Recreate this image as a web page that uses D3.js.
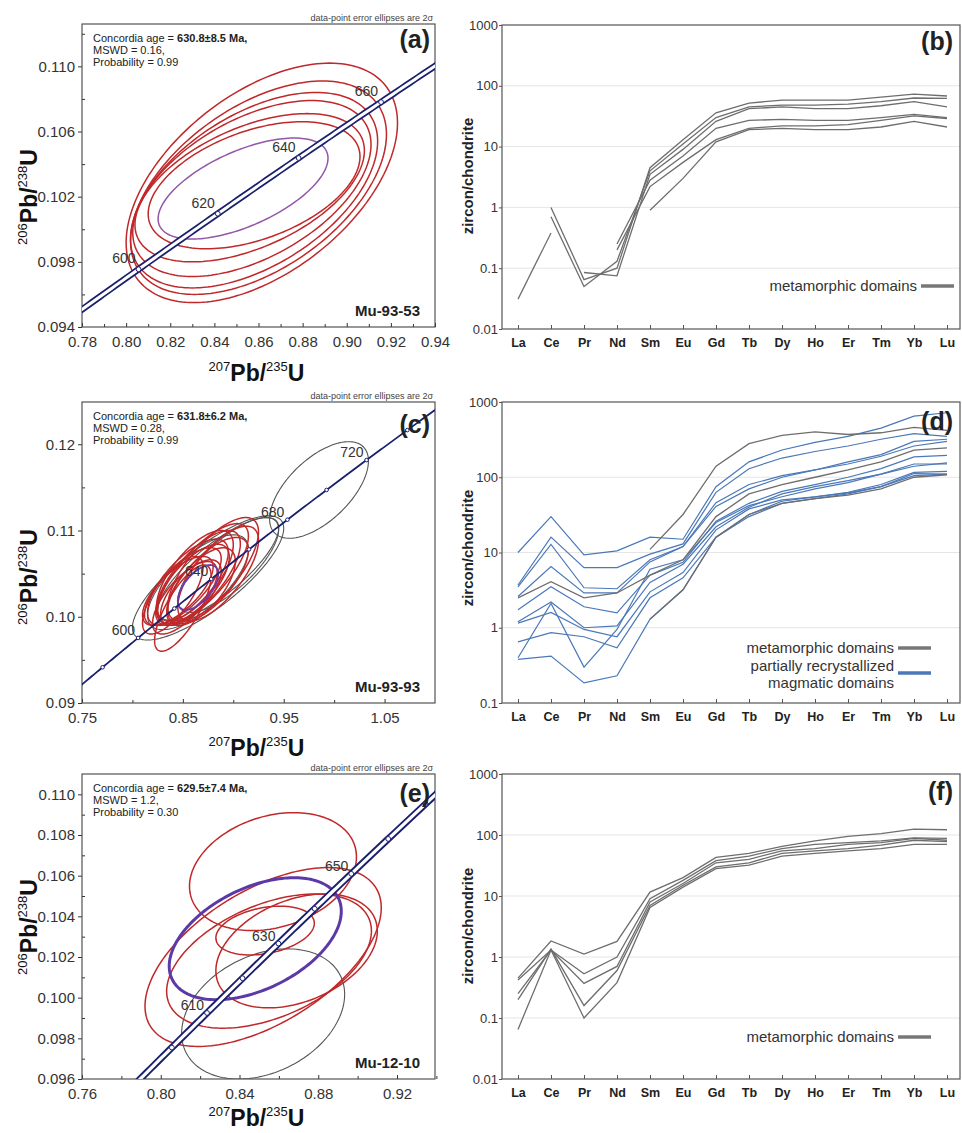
<!DOCTYPE html>
<html><head><meta charset="utf-8">
<script src="https://cdn.jsdelivr.net/npm/d3@7"></script>
<style>
body{margin:0;background:#fff}
svg{display:block}
text{font-family:"Liberation Sans",Arial,Helvetica,sans-serif;fill:#222}
</style>
</head><body>
<svg id="c" width="962" height="1133"></svg>
<script>
// ---------------- DATA ----------------
const REE = ["La","Ce","Pr","Nd","Sm","Eu","Gd","Tb","Dy","Ho","Er","Tm","Yb","Lu"];
const reeTicks = [0.01,0.1,1,10,100,1000];

// error ellipses: [cx (207/235), cy (206/238), half-width x, half-height y, rho]
const aRed = [
  [0.8615,0.10285,0.0615,0.00735,0.50],
  [0.8600,0.10255,0.0580,0.00655,0.50],
  [0.8580,0.10240,0.0560,0.00600,0.50],
  [0.8570,0.10250,0.0540,0.00540,0.50],
  [0.8560,0.10255,0.0520,0.00455,0.50],
  [0.8580,0.10270,0.0480,0.00390,0.45]
];
const aMean = [0.853,0.1025,0.0385,0.0031,0.6];
const aAges = [580,600,620,640,660,680];
const aAgeLabels = [600,620,640,660];
const aXTicks = [0.78,0.80,0.82,0.84,0.86,0.88,0.90,0.92,0.94];
const aXMinor = [0.79,0.81,0.83,0.85,0.87,0.89,0.91,0.93];
const aYTicks = [0.094,0.098,0.102,0.106,0.110];
const aYMinor = [0.096,0.100,0.104,0.108,0.112];

const cRed = [
  [0.845,0.1030,0.035,0.0040,0.70],
  [0.850,0.1035,0.038,0.0045,0.72],
  [0.855,0.1040,0.040,0.0050,0.70],
  [0.860,0.1038,0.036,0.0046,0.68],
  [0.865,0.1045,0.042,0.0055,0.72],
  [0.870,0.1050,0.045,0.0058,0.75],
  [0.858,0.1028,0.030,0.0038,0.65],
  [0.875,0.1042,0.040,0.0050,0.70],
  [0.880,0.1055,0.045,0.0060,0.72],
  [0.852,0.1022,0.032,0.0042,0.70],
  [0.868,0.1035,0.034,0.0045,0.65],
  [0.885,0.1050,0.040,0.0055,0.70],
  [0.840,0.1025,0.030,0.0045,0.72],
  [0.862,0.1048,0.038,0.0052,0.68],
  [0.850,0.1010,0.028,0.0050,0.75]
];
const cGrey = [
  [0.875,0.1045,0.075,0.0072,0.80],
  [0.885,0.1055,0.060,0.0060,0.80],
  [0.865,0.1040,0.050,0.0055,0.70],
  [0.895,0.1060,0.050,0.0055,0.75],
  [0.985,0.1147,0.049,0.0056,0.60]
];
const cMean = [0.865,0.1034,0.020,0.0026,0.6];
const cAges = [560,580,600,620,640,660,680,700,720,740,760];
const cAgeLabels = [600,640,680,720];
const cXTicks = [0.75,0.85,0.95,1.05];
const cXMinor = [0.80,0.90,1.00];
const cYTicks = [0.09,0.10,0.11,0.12];
const cYMinor = [0.095,0.105,0.115];

const eRed = [
  [0.857,0.1062,0.0424,0.0029,0.25],
  [0.852,0.1020,0.0600,0.0044,0.55],
  [0.855,0.1018,0.0520,0.0033,0.45],
  [0.853,0.1033,0.0250,0.0012,0.30],
  [0.869,0.1023,0.0410,0.0028,0.35]
];
const eGrey = [[0.852,0.0992,0.0414,0.0032,0.30]];
const eMean = [0.848,0.1029,0.0437,0.0030,0.45];
const eAges = [580,590,600,610,620,630,640,650,660,670,680,690];
const eAgeLabels = [610,630,650];
const eXTicks = [0.76,0.80,0.84,0.88,0.92];
const eXMinor = [0.78,0.82,0.86,0.90,0.94];
const eYTicks = [0.096,0.098,0.100,0.102,0.104,0.106,0.108,0.110];
const eYMinor = [0.097,0.099,0.101,0.103,0.105,0.107,0.109];

// REE patterns (chondrite normalised), La..Lu, null = not measured
const bMeta = [
  [null,1.0,0.065,0.10,4.5,13,36,52,58,58,58,65,73,68],
  [null,0.7,0.05,0.13,4.0,11,30,45,48,48,50,55,63,62],
  [null,null,0.085,0.075,3.5,9,26,42,45,42,42,47,55,45],
  [null,null,null,0.25,2.8,7,20,27,28,27,27,30,34,30],
  [null,null,null,0.20,2.2,5.5,13,20,22,22,23,27,32,29],
  [null,null,null,null,0.9,3,12,19,20,19,19,21,26,21],
  [0.031,0.38,null,null,null,null,null,null,null,null,null,null,null,null]
];
const dMeta = [
  [null,null,null,null,11,32,140,280,360,400,370,390,460,420],
  [2.5,4.1,2.5,2.9,5,8,30,60,80,100,125,160,230,245],
  [null,null,null,null,1.3,3.2,16,32,45,52,58,70,100,108]
];
const dMagm = [
  [10,30,9.3,10.5,16,15,75,160,230,290,350,450,650,720],
  [3.7,16,6.3,6.3,9.5,13,63,130,180,220,260,320,380,350],
  [3.5,12.8,3.4,3.3,8,12,46,80,105,125,160,200,300,320],
  [2.6,6.5,2.9,2.9,7.5,12,41,70,100,125,150,190,260,300],
  [1.74,3.5,1.9,1.58,5,7.4,26,45,65,80,100,130,186,195],
  [1.2,2.2,1.0,1.06,4,7,22,40,60,75,90,110,140,155],
  [1.15,1.6,0.95,0.76,3,5.4,20,38,50,55,63,80,116,120],
  [0.65,0.86,0.76,0.54,2.5,4.6,16,32,48,55,62,75,112,110],
  [0.4,2.1,0.30,0.95,6,8,25,42,55,70,85,110,150,150],
  [0.38,0.42,0.185,0.23,1.3,3.2,16,30,45,52,60,75,105,110]
];
const fMeta = [
  [0.45,1.83,1.12,1.8,11.6,20,43,50,65,80,95,105,125,122],
  [0.42,1.3,0.53,1.0,9,18,38,45,60,70,75,80,90,88],
  [0.25,1.3,0.37,0.7,8,16,35,40,55,60,70,75,88,82],
  [0.2,1.35,0.16,0.6,7,15,30,35,50,55,60,68,82,78],
  [0.065,1.3,0.1,0.38,6.5,14,28,32,45,50,55,60,70,70]
];

// decay constants (per Ma) for the concordia curve
const L238 = 1.55125e-4, L235 = 9.8485e-4;

// ---------------- DRAWING ----------------
const svg = d3.select('#c');
const concordia = t => [Math.exp(L235*t)-1, Math.exp(L238*t)-1];

function ellipsePts(e){
  const [cx,cy,sx,sy,r] = e, k = Math.sqrt(1-r*r);
  return d3.range(0,360,2).map(a=>{const t=a*Math.PI/180;
    return [cx+sx*Math.cos(t), cy+sy*(r*Math.cos(t)+k*Math.sin(t))];});
}

function axisTitle(g, x, y, rot, sup1, main1, sup2, main2){
  const t = g.append('text').attr('transform',`translate(${x},${y}) rotate(${rot})`)
    .attr('text-anchor','middle').style('fill','#111');
  t.append('tspan').attr('font-size',13).attr('dy',-10).text(sup1);
  t.append('tspan').attr('font-size',23).attr('font-weight','bold').attr('dy',10).text(main1);
  t.append('tspan').attr('font-size',13).attr('dy',-10).text(sup2);
  t.append('tspan').attr('font-size',23).attr('font-weight','bold').attr('dy',10).text(main2);
}

function concPanel(c){
  const g = svg.append('g');
  const x = d3.scaleLinear().domain(c.xd).range([c.l,c.r]);
  const y = d3.scaleLinear().domain(c.yd).range([c.b,c.t]);
  g.append('clipPath').attr('id',c.id).append('rect')
    .attr('x',c.l).attr('y',c.t).attr('width',c.r-c.l).attr('height',c.b-c.t);
  // axes
  const xa = g.append('g').attr('transform',`translate(0,${c.b})`)
    .call(d3.axisBottom(x).tickValues(c.xt).tickSize(-4).tickPadding(9).tickFormat(d3.format(c.xf)));
  const xm = g.append('g').attr('transform',`translate(0,${c.b})`)
    .call(d3.axisBottom(x).tickValues(c.xm).tickSize(-3).tickFormat(''));
  const ya = g.append('g').attr('transform',`translate(${c.l},0)`)
    .call(d3.axisLeft(y).tickValues(c.yt).tickSize(4).tickPadding(3).tickFormat(d3.format(c.yf)));
  const ym = g.append('g').attr('transform',`translate(${c.l},0)`)
    .call(d3.axisLeft(y).tickValues(c.ym).tickSize(-3).tickFormat(''));
  [xa,xm,ya,ym].forEach(a=>{a.select('.domain').remove();
    a.selectAll('line').attr('stroke','#333');
    a.selectAll('text').attr('font-size',15).style('fill','#333');});
  g.append('rect').attr('x',c.l).attr('y',c.t).attr('width',c.r-c.l).attr('height',c.b-c.t)
    .attr('fill','none').attr('stroke','#444').attr('stroke-width',1.1);

  const pg = g.append('g').attr('clip-path',`url(#${c.id})`);
  const eline = d3.line().x(d=>x(d[0])).y(d=>y(d[1])).curve(d3.curveLinearClosed);
  pg.selectAll('.grey').data(c.grey).join('path').attr('d',d=>eline(ellipsePts(d)))
    .attr('fill','none').attr('stroke','#555').attr('stroke-width',1.1);
  pg.selectAll('.red').data(c.red).join('path').attr('d',d=>eline(ellipsePts(d)))
    .attr('fill','none').attr('stroke','#c0282a').attr('stroke-width',1.5);
  pg.append('path').attr('d',eline(ellipsePts(c.mean)))
    .attr('fill','none').attr('stroke',c.meanColor).attr('stroke-width',c.meanWidth);

  // concordia
  const cl = d3.line().x(d=>x(d[0])).y(d=>y(d[1]));
  const pts = d3.range(400,900,1).map(concordia);
  if (c.band){
    pg.append('path').attr('d',cl(pts)).attr('fill','none').attr('stroke','#1a1f6e').attr('stroke-width',c.band[0]);
    pg.append('path').attr('d',cl(pts)).attr('fill','none').attr('stroke','#fff').attr('stroke-width',c.band[1]);
  } else {
    pg.append('path').attr('d',cl(pts)).attr('fill','none').attr('stroke','#1a1f6e').attr('stroke-width',1.8);
  }
  pg.selectAll('.mk').data(c.ages).join('circle')
    .attr('cx',d=>x(concordia(d)[0])).attr('cy',d=>y(concordia(d)[1]))
    .attr('r',c.band?2.4:1.8).attr('fill','#fff').attr('stroke','#1a1f6e').attr('stroke-width',1);
  g.selectAll('.al').data(c.ageLabels).join('text')
    .attr('x',d=>x(concordia(d)[0])-3).attr('y',d=>y(concordia(d)[1])-c.lblDy)
    .attr('text-anchor','end').attr('font-size',14).style('fill','#333').text(d=>d);

  // annotations
  g.append('text').attr('x',c.r-2).attr('y',c.t-3).attr('text-anchor','end').attr('font-size',9)
    .style('fill','#444').text('data-point error ellipses are 2σ');
  const t1 = g.append('text').attr('x',c.l+11).attr('y',c.t+18).attr('font-size',11);
  t1.append('tspan').text('Concordia age = ');
  t1.append('tspan').attr('font-weight','bold').text(c.age);
  g.append('text').attr('x',c.l+11).attr('y',c.t+30).attr('font-size',11).text(c.mswd);
  g.append('text').attr('x',c.l+11).attr('y',c.t+42).attr('font-size',11).text(c.prob);
  g.append('text').attr('x',c.r-5).attr('y',c.t+c.panelDy).attr('text-anchor','end')
    .attr('font-size',25).attr('font-weight','bold').style('fill','#222').text(c.panel);
  g.append('text').attr('x',c.r-15).attr('y',c.b-11).attr('text-anchor','end')
    .attr('font-size',15).attr('font-weight','bold').style('fill','#222').text(c.sample);
  axisTitle(g, (c.l+c.r)/2 - 2, c.xTitleY, 0, '207','Pb/','235','U');
  axisTitle(g, 37, c.yMid, -90, '206','Pb/','238','U');
}

function reePanel(c){
  const g = svg.append('g');
  const x = d3.scalePoint().domain(REE).range([518,947]);
  const y = d3.scaleLog().domain(c.yd).range([c.b,c.t]);
  const ticks = reeTicks.filter(v=>v>=c.yd[0]-1e-9 && v<=c.yd[1]);
  g.selectAll('.grid').data(ticks.slice(1,-1)).join('line')
    .attr('x1',c.l).attr('x2',c.r).attr('y1',d=>y(d)).attr('y2',d=>y(d))
    .attr('stroke','#dedede').attr('stroke-width',0.8);
  const xa = g.append('g').attr('transform',`translate(0,${c.b})`)
    .call(d3.axisBottom(x).tickSize(-4).tickPadding(9));
  xa.selectAll('text').attr('font-size',12.5).attr('font-weight','bold').style('fill','#222');
  const ya = g.append('g').attr('transform',`translate(${c.l},0)`)
    .call(d3.axisLeft(y).tickValues(ticks).tickSize(3).tickPadding(1).tickFormat(d=>String(d)));
  ya.selectAll('text').attr('font-size',13).style('fill','#333');
  [xa,ya].forEach(a=>{a.select('.domain').remove(); a.selectAll('line').attr('stroke','#555');});
  g.append('rect').attr('x',c.l).attr('y',c.t).attr('width',c.r-c.l).attr('height',c.b-c.t)
    .attr('fill','none').attr('stroke','#555').attr('stroke-width',1.2);
  const line = d3.line().defined(d=>d!=null).x((d,i)=>x(REE[i])).y(d=>y(d));
  g.selectAll('.mg').data(c.magm||[]).join('path').attr('d',line)
    .attr('fill','none').attr('stroke','#4a78b8').attr('stroke-width',1.2);
  g.selectAll('.mt').data(c.meta).join('path').attr('d',line)
    .attr('fill','none').attr('stroke','#6e6e6e').attr('stroke-width',1.3);
  g.append('text').attr('x',953).attr('y',c.t+c.panelDy).attr('text-anchor','end')
    .attr('font-size',25).attr('font-weight','bold').style('fill','#222').text(c.panel);
  g.append('text').attr('transform',`translate(473,${c.yMid}) rotate(-90)`).attr('text-anchor','middle')
    .attr('font-size',15).attr('font-weight','bold').style('fill','#222').text('zircon/chondrite');
  c.legend.forEach(L=>{
    L.text.forEach((s,i)=>g.append('text').attr('x',L.x).attr('y',L.y+i*17).attr('text-anchor','end')
      .attr('font-size',15).style('fill','#333').text(s));
    g.append('line').attr('x1',L.x+4).attr('x2',L.x+37).attr('y1',L.ly).attr('y2',L.ly)
      .attr('stroke',L.color).attr('stroke-width',3.5);
  });
}

concPanel({id:'ca',l:82,r:435,t:24,b:327,xd:[0.78,0.94],yd:[0.094,0.1126],
  xt:aXTicks,xm:aXMinor,yt:aYTicks,ym:aYMinor,xf:'.2f',yf:'.3f',
  red:aRed,grey:[],mean:aMean,meanColor:'#9257a6',meanWidth:1.5,
  band:[6.5,3],ages:aAges,ageLabels:aAgeLabels,lblDy:6,
  age:'630.8±8.5 Ma,',mswd:'MSWD = 0.16,',prob:'Probability = 0.99',
  panel:'(a)',panelDy:24,sample:'Mu-93-53',yMid:197,xTitleY:381});
concPanel({id:'cc',l:82,r:435,t:402,b:703,xd:[0.75,1.10],yd:[0.09,0.1249],
  xt:cXTicks,xm:cXMinor,yt:cYTicks,ym:cYMinor,xf:'.2f',yf:'.2f',
  red:cRed,grey:cGrey,mean:cMean,meanColor:'#6a3ab0',meanWidth:1.8,
  band:null,ages:cAges,ageLabels:cAgeLabels,lblDy:3,
  age:'631.8±6.2 Ma,',mswd:'MSWD = 0.28,',prob:'Probability = 0.99',
  panel:'(c)',panelDy:31,sample:'Mu-93-93',yMid:577,xTitleY:756});
concPanel({id:'ce',l:82,r:435,t:774,b:1079,xd:[0.76,0.9393],yd:[0.096,0.111],
  xt:eXTicks,xm:eXMinor,yt:eYTicks,ym:eYMinor,xf:'.2f',yf:'.3f',
  red:eRed,grey:eGrey,mean:eMean,meanColor:'#5b3aa8',meanWidth:3,
  band:[7,3.2],ages:eAges,ageLabels:eAgeLabels,lblDy:3,
  age:'629.5±7.4 Ma,',mswd:'MSWD = 1.2,',prob:'Probability = 0.30',
  panel:'(e)',panelDy:28,sample:'Mu-12-10',yMid:927,xTitleY:1126});

reePanel({l:502,r:960,t:25,b:329,yd:[0.01,1000],meta:bMeta,panel:'(b)',panelDy:25,yMid:176,
  legend:[{x:917,y:291,ly:286,text:['metamorphic domains'],color:'#777'}]});
reePanel({l:502,r:960,t:402,b:703,yd:[0.1,1000],meta:dMeta,magm:dMagm,panel:'(d)',panelDy:28,yMid:548,
  legend:[{x:894,y:653,ly:648,text:['metamorphic domains'],color:'#777'},
          {x:894,y:671,ly:673,text:['partially recrystallized','magmatic domains'],color:'#4a78b8'}]});
reePanel({l:502,r:960,t:774,b:1079,yd:[0.01,1000],meta:fMeta,panel:'(f)',panelDy:26,yMid:926,
  legend:[{x:894,y:1042,ly:1037,text:['metamorphic domains'],color:'#777'}]});
</script>
</body></html>
